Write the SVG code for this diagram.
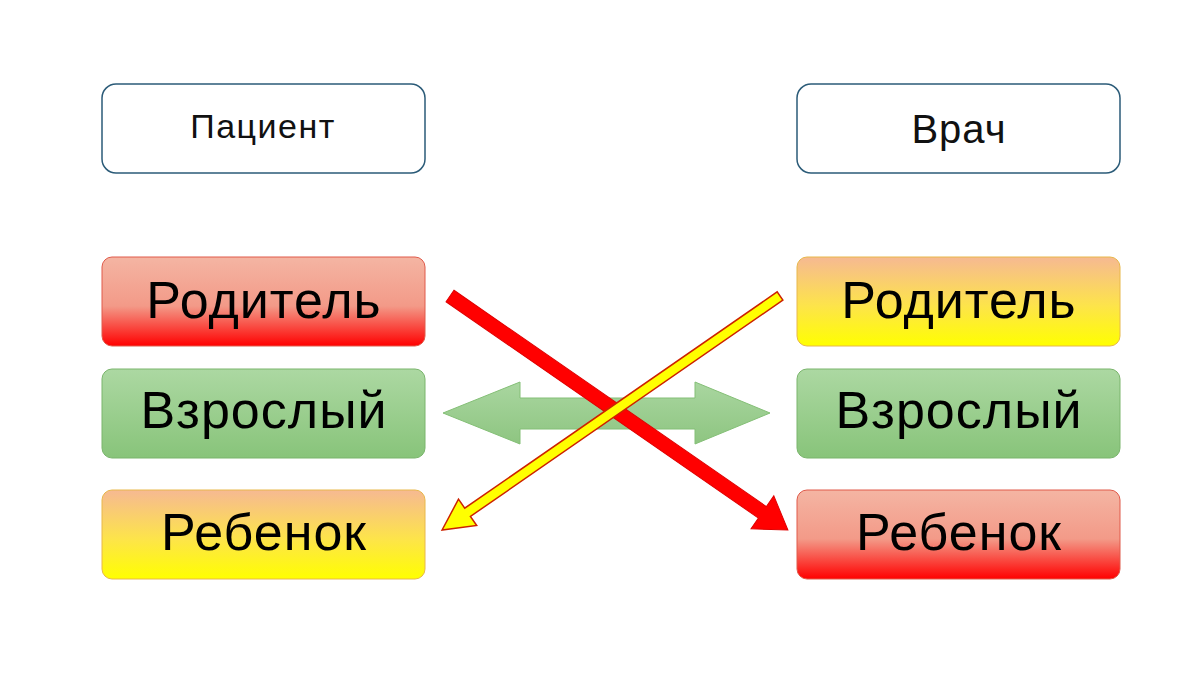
<svg xmlns="http://www.w3.org/2000/svg" width="1200" height="675" viewBox="0 0 1200 675">
<defs>
<linearGradient id="gRed" x1="0" y1="0" x2="0" y2="1">
<stop offset="0" stop-color="#f4b5a3"/>
<stop offset="0.55" stop-color="#f39a88"/>
<stop offset="1" stop-color="#ff0000"/>
</linearGradient>
<linearGradient id="gYel" x1="0" y1="0" x2="0" y2="1">
<stop offset="0" stop-color="#f6b992"/>
<stop offset="0.55" stop-color="#fde44a"/>
<stop offset="1" stop-color="#ffff00"/>
</linearGradient>
<linearGradient id="gGrn" x1="0" y1="0" x2="0" y2="1">
<stop offset="0" stop-color="#acd8a2"/>
<stop offset="1" stop-color="#88c47a"/>
</linearGradient>
<linearGradient id="gArrow" x1="0" y1="0" x2="0" y2="1">
<stop offset="0" stop-color="#a9d6a0"/>
<stop offset="1" stop-color="#8ec581"/>
</linearGradient>
</defs>
<style>
.hdr{fill:#ffffff;stroke:#2b5b78;stroke-width:1.5}
.red{fill:url(#gRed);stroke:#e05a4a;stroke-width:1}
.yel{fill:url(#gYel);stroke:#e8b84a;stroke-width:1}
.grn{fill:url(#gGrn);stroke:#7ab56c;stroke-width:1}
.ht{font-family:"Liberation Sans",Arial,sans-serif;fill:#111;text-anchor:middle}
.bt{font-family:"Liberation Sans",Arial,sans-serif;font-size:52px;letter-spacing:1px;fill:#000;text-anchor:middle}
</style>
<rect width="1200" height="675" fill="#ffffff"/>
<g id="node-patient">
<rect class="hdr" x="102" y="84" width="323" height="89" rx="14"/>
<text class="ht" x="263" y="138" font-size="34" letter-spacing="1.5">Пациент</text>
</g>
<g id="node-doctor">
<rect class="hdr" x="797" y="84" width="323" height="89" rx="14"/>
<text class="ht" x="959" y="143" font-size="40" letter-spacing="1">Врач</text>
</g>
<g id="node-p-parent">
<rect class="red" x="102" y="257" width="323" height="89" rx="10"/>
<text class="bt" x="264" y="318">Родитель</text>
</g>
<g id="node-p-adult">
<rect class="grn" x="102" y="369" width="323" height="89" rx="10"/>
<text class="bt" x="264" y="428">Взрослый</text>
</g>
<g id="node-p-child">
<rect class="yel" x="102" y="490" width="323" height="89" rx="10"/>
<text class="bt" x="264" y="550">Ребенок</text>
</g>
<g id="node-d-parent">
<rect class="yel" x="797" y="257" width="323" height="89" rx="10"/>
<text class="bt" x="959" y="318">Родитель</text>
</g>
<g id="node-d-adult">
<rect class="grn" x="797" y="369" width="323" height="89" rx="10"/>
<text class="bt" x="959" y="428">Взрослый</text>
</g>
<g id="node-d-child">
<rect class="red" x="797" y="490" width="323" height="89" rx="10"/>
<text class="bt" x="959" y="550">Ребенок</text>
</g>
<g id="connectors">
<polygon points="443,413 520,382 520,398 695,398 695,382 770,413 695,444 695,429 520,429 520,444" fill="url(#gArrow)" stroke="#84bf76" stroke-width="1"/>
<g transform="translate(450,296) rotate(34.7)">
<polygon points="0,-7 380,-7 380,-20 411,0 380,20 380,7 0,7" fill="#ff0000" stroke="#e00000" stroke-width="1"/>
</g>
<g transform="translate(780,296) rotate(145.3)">
<polygon points="0,-5 380,-5 380,-16 411,0 380,16 380,5 0,5" fill="#ffff00" stroke="#cc2200" stroke-width="1.5" stroke-linejoin="miter"/>
</g>
</g>
</svg>
